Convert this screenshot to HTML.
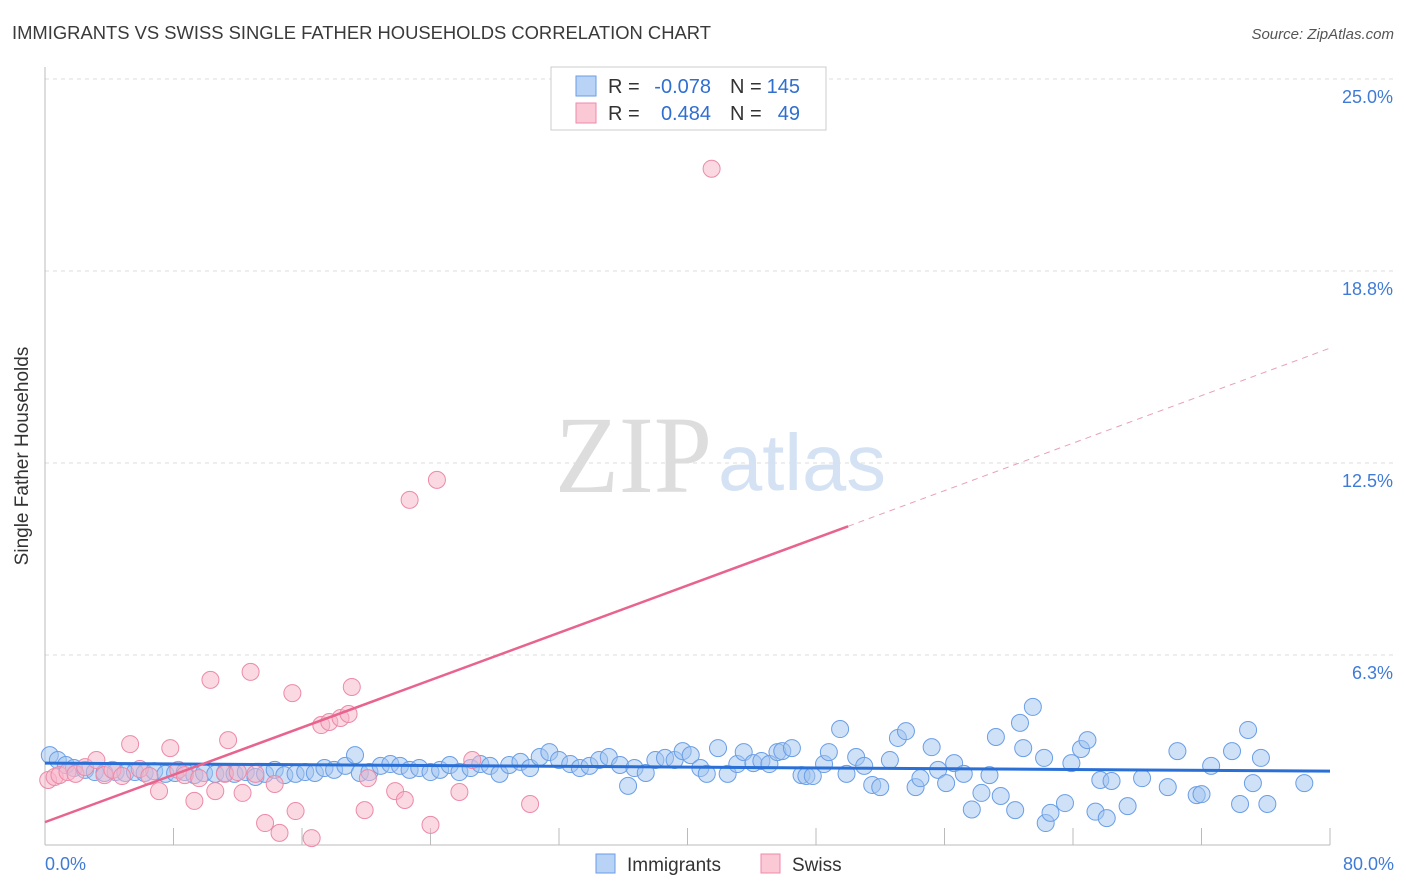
<!DOCTYPE html>
<html><head><meta charset="utf-8"><style>
body{margin:0;background:#fff;font-family:"Liberation Sans",sans-serif}
svg{display:block}
</style></head><body>
<svg id="chart" width="1406" height="892">
<text x="12" y="39" font-size="18.4" fill="#3a3a3a">IMMIGRANTS VS SWISS SINGLE FATHER HOUSEHOLDS CORRELATION CHART</text>
<text x="1394" y="39" font-size="15" fill="#555" text-anchor="end" font-style="italic">Source: ZipAtlas.com</text>
<g id="grid"></g>
<text x="712" y="492" font-size="110" fill="#ddd" text-anchor="end" font-family="Liberation Serif" textLength="157" lengthAdjust="spacingAndGlyphs">ZIP</text>
<text x="718" y="490" font-size="80" fill="#d4e2f4" textLength="168" lengthAdjust="spacingAndGlyphs">atlas</text>
<line x1="45" y1="67" x2="45" y2="845" stroke="#bbb"/>
<line x1="45" y1="845" x2="1330" y2="845" stroke="#bbb"/>
<g id="ticks"></g>
<text x="28" y="456" font-size="19" fill="#333" text-anchor="middle" transform="rotate(-90 28 456)">Single Father Households</text>
<text x="45" y="870" font-size="18" fill="#3f7bd6">0.0%</text>
<text x="1394" y="870" font-size="18" fill="#3f7bd6" text-anchor="end">80.0%</text>
<g id="pts"></g>
<g id="lines"></g>
<g>
<rect x="551" y="67" width="275" height="63" fill="#fff" stroke="#ccc"/>
<rect x="576" y="76" width="20" height="20" fill="#b8d3f5" stroke="#6a9ee6"/>
<rect x="576" y="103" width="20" height="20" fill="#fbc8d6" stroke="#ec8aa8"/>
<text x="608" y="93" font-size="20" fill="#333">R =</text>
<text x="711" y="93" font-size="20" fill="#2f6fd0" text-anchor="end">-0.078</text>
<text x="730" y="93" font-size="20" fill="#333">N =</text>
<text x="800" y="93" font-size="20" fill="#2f6fd0" text-anchor="end">145</text>
<text x="608" y="120" font-size="20" fill="#333">R =</text>
<text x="711" y="120" font-size="20" fill="#2f6fd0" text-anchor="end">0.484</text>
<text x="730" y="120" font-size="20" fill="#333">N =</text>
<text x="800" y="120" font-size="20" fill="#2f6fd0" text-anchor="end">49</text>
</g>
<g>
<rect x="596" y="854" width="19" height="19" fill="#b8d3f5" stroke="#6a9ee6"/>
<text x="627" y="871" font-size="19" fill="#333">Immigrants</text>
<rect x="761" y="854" width="19" height="19" fill="#fbc8d6" stroke="#ec8aa8"/>
<text x="792" y="871" font-size="19" fill="#333">Swiss</text>
</g>
</svg>
<script>
const yTicks=[6.25,12.5,18.75,25];
const yTickLabels=["6.3%","12.5%","18.8%","25.0%"];
const blueX=[0.3,0.8,1.3,1.8,2.5,3.1,3.7,4.4,5,5.6,6.2,6.8,7.5,8.1,8.7,9.3,9.9,10.6,11.2,11.8,12.5,13.1,13.7,14.3,14.9,15.6,16.2,16.8,17.4,18,18.7,19.3,19.6,20.2,20.9,21.5,22.1,22.7,23.3,24,24.6,25.2,25.8,26.5,27.1,27.7,28.3,28.9,29.6,30.2,30.8,31.4,32,32.7,33.3,33.9,34.5,35.1,35.8,36.3,36.7,37.4,38,38.6,39.2,39.7,40.2,40.8,41.2,41.9,42.5,43.1,43.5,44.1,44.6,45.1,45.6,45.9,46.5,47.1,47.4,47.8,48.5,48.8,49.5,49.9,50.5,51,51.5,52,52.6,53.1,53.6,54.2,54.5,55.2,55.6,56.1,56.6,57.2,57.7,58.3,58.8,59.2,59.5,60.4,60.7,60.9,61.5,62.2,62.3,62.6,63.5,63.9,64.5,64.9,65.4,65.7,66.1,66.4,67.4,68.3,69.9,70.5,71.7,72,72.6,73.9,74.4,74.9,75.2,75.7,76.1,78.4];
const blueY=[2.99,2.83,2.67,2.57,2.51,2.44,2.41,2.44,2.41,2.44,2.41,2.47,2.38,2.41,2.44,2.34,2.41,2.38,2.41,2.38,2.44,2.28,2.38,2.51,2.34,2.38,2.44,2.41,2.57,2.51,2.64,2.99,2.41,2.44,2.64,2.7,2.64,2.51,2.57,2.44,2.51,2.67,2.44,2.57,2.7,2.64,2.38,2.67,2.77,2.57,2.93,3.09,2.83,2.7,2.57,2.64,2.83,2.93,2.67,1.99,2.57,2.41,2.83,2.9,2.83,3.12,2.99,2.57,2.38,3.22,2.38,2.7,3.09,2.73,2.8,2.7,3.09,3.12,3.22,2.34,2.31,2.31,2.7,3.09,3.84,2.38,2.93,2.64,2.02,1.95,2.83,3.55,3.77,1.95,2.24,3.25,2.51,2.08,2.73,2.38,1.22,1.76,2.34,3.58,1.66,1.2,4.04,3.22,4.56,2.9,0.78,1.11,1.43,2.73,3.19,3.48,1.15,2.18,0.94,2.15,1.33,2.24,1.95,3.12,1.69,1.72,2.64,3.12,1.4,3.81,2.08,2.9,1.4,2.08];
const pinkX=[0.2,0.6,0.9,1.4,1.9,2.5,3.2,3.7,4.2,4.8,5.3,5.9,6.5,7.1,7.8,8.3,8.7,9.3,9.6,10.3,10.6,11.2,11.4,12,12.3,12.8,13.1,13.7,14.3,14.6,15.4,15.6,16.6,17.2,17.7,18.4,18.9,19.1,19.9,20.1,21.8,22.4,22.7,24,24.4,25.8,26.6,30.2,41.5];
const pinkY=[2.18,2.28,2.34,2.44,2.38,2.6,2.83,2.34,2.51,2.31,3.35,2.54,2.31,1.82,3.22,2.51,2.34,1.5,2.24,5.44,1.82,2.38,3.48,2.44,1.76,5.7,2.38,0.78,2.05,0.46,5.01,1.17,0.29,3.97,4.07,4.2,4.33,5.21,1.2,2.24,1.82,1.53,11.3,0.72,11.95,1.79,2.83,1.4,22.08];
const X0=45,X1=1330,Y0=847,PXPERPCT=192/6.25;
const sx=v=>X0+(v/80)*(X1-X0), sy=v=>Y0-v*PXPERPCT;
const NS="http://www.w3.org/2000/svg";
function mk(tag,attrs,parent){const e=document.createElementNS(NS,tag);for(const k in attrs)e.setAttribute(k,attrs[k]);parent.appendChild(e);return e;}
const grid=document.getElementById('grid');
yTicks.forEach((t,i)=>{
 const l=mk('line',{x1:45,x2:1394,y1:sy(t),y2:sy(t),stroke:'#ddd','stroke-dasharray':'4,4'},grid);
 
 
 const tx=mk('text',{x:1393,y:sy(t)+24,'font-size':18,fill:'#3f7bd6','text-anchor':'end'},grid);
 tx.textContent=yTickLabels[i];
 
 
});
const ticks=document.getElementById('ticks');
for(let i=1;i<=10;i++){
 const v=i*8;
 const l=mk('line',{x1:sx(v),x2:sx(v),y1:828,y2:845,stroke:'#bbb'},ticks);
 
 
}
const pts=document.getElementById('pts');
const nB=Math.min(blueX.length,blueY.length);
for(let i=0;i<nB;i++){
 const c=mk('circle',{cx:sx(blueX[i]),cy:sy(blueY[i]),r:8.5,fill:'rgba(160,196,240,0.5)',stroke:'#6a9ee6','stroke-width':1},pts);
 
 
}
const nP=Math.min(pinkX.length,pinkY.length);
for(let i=0;i<nP;i++){
 const c=mk('circle',{cx:sx(pinkX[i]),cy:sy(pinkY[i]),r:8.5,fill:'rgba(248,180,200,0.5)',stroke:'#ec8aa8','stroke-width':1},pts);
 
 
}
const blueTrend=[2.73,2.47];
const pinkTrend=[0.81,10.44,16.24];
const lines=document.getElementById('lines');
let l=mk('line',{x1:sx(0),y1:sy(blueTrend[0]),x2:sx(80),y2:sy(blueTrend[1]),stroke:'#2a6fd6','stroke-width':3},lines);


l=mk('line',{x1:sx(0),y1:sy(pinkTrend[0]),x2:sx(50),y2:sy(pinkTrend[1]),stroke:'#e8638e','stroke-width':2.5},lines);


l=mk('line',{x1:sx(50),y1:sy(pinkTrend[1]),x2:sx(80),y2:sy(pinkTrend[2]),stroke:'#e8a0b6','stroke-width':1,'stroke-dasharray':'6,5'},lines);


</script>
</body></html>
